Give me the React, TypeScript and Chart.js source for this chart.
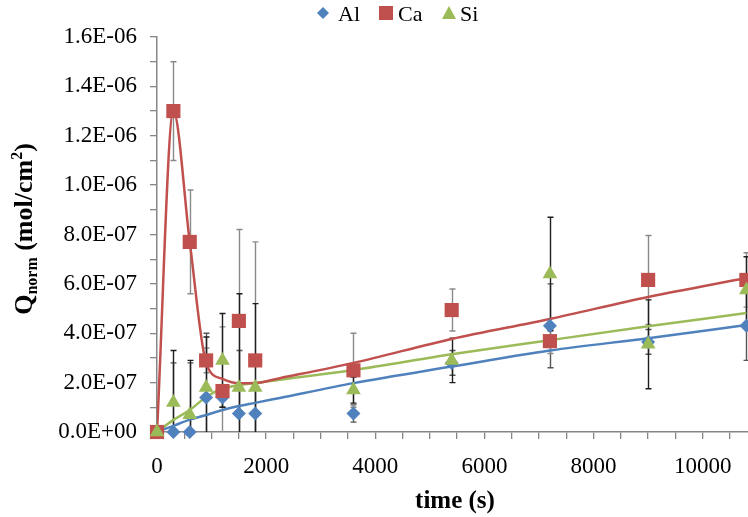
import React, { useEffect, useRef } from 'react';
import { Chart, registerables } from 'chart.js';

Chart.register(...registerables);

// ---- data (mol/cm2) ----
const times = [0, 300, 600, 900, 1200, 1500, 1800, 3600, 5400, 7200, 9000, 10800];
const alValues = [0, 0, 0, 1.4e-7, 1.4e-7, 0.75e-7, 0.75e-7, 0.75e-7, 2.8e-7, 4.3e-7, 3.65e-7, 4.3e-7];
const alErrors = [0, 2.8e-7, 2.8e-7, 2.6e-7, 0.4e-7, 2.55e-7, 1.0e-7, 0.35e-7, 0.5e-7, 1.7e-7, 0.5e-7, 1.4e-7];
const caValues = [0, 13.0e-7, 7.7e-7, 2.9e-7, 1.66e-7, 4.5e-7, 2.9e-7, 2.5e-7, 4.94e-7, 3.68e-7, 6.16e-7, 6.16e-7];
const caErrors = [0, 2.0e-7, 2.1e-7, 0.5e-7, 2.6e-7, 3.7e-7, 4.8e-7, 1.5e-7, 0.85e-7, 0.5e-7, 1.8e-7, 1.1e-7];
const siValues = [0, 1.2e-7, 0.7e-7, 1.8e-7, 2.9e-7, 1.8e-7, 1.8e-7, 1.7e-7, 2.9e-7, 6.4e-7, 3.55e-7, 5.75e-7];
const siErrors = [0, 2.1e-7, 2.2e-7, 2.05e-7, 1.9e-7, 3.8e-7, 3.4e-7, 0.53e-7, 0.9e-7, 2.3e-7, 1.8e-7, 1.35e-7];

// fitted model curves
const fitTimes = [0, 300, 600, 900, 1200, 1500, 1800, 2250, 3600, 5400, 7200, 9000, 10800];
const alFit = [0, 0.25e-7, 0.5e-7, 0.69e-7, 0.89e-7, 1.05e-7, 1.18e-7, 1.38e-7, 1.98e-7, 2.65e-7, 3.3e-7, 3.8e-7, 4.33e-7];
const caFit = [0, 13.0e-7, 7.7e-7, 2.8e-7, 2.15e-7, 1.97e-7, 1.98e-7, 2.18e-7, 2.8e-7, 3.77e-7, 4.58e-7, 5.47e-7, 6.24e-7];
const siFit = [0, 0.49e-7, 0.89e-7, 1.42e-7, 1.75e-7, 1.9e-7, 1.98e-7, 2.12e-7, 2.51e-7, 3.15e-7, 3.72e-7, 4.28e-7, 4.82e-7];

const xTickValues = [0, 500, 1000, 1500, 2000, 2500, 3000, 3500, 4000, 4500, 5000, 5500, 6000, 6500, 7000, 7500, 8000, 8500, 9000, 9500, 10000, 10500];
const xTickLabels = ['0', '2000', '4000', '6000', '8000', '10000'];
const yTickValues = [0, 1e-7, 2e-7, 3e-7, 4e-7, 5e-7, 6e-7, 7e-7, 8e-7, 9e-7, 10e-7, 11e-7, 12e-7, 13e-7, 14e-7, 15e-7, 16e-7];
const yTickLabels = ['0.0E+00', '2.0E-07', '4.0E-07', '6.0E-07', '8.0E-07', '1.0E-06', '1.2E-06', '1.4E-06', '1.6E-06'];

const AL = '#4F81BD';
const CA = '#C0504D';
const SI = '#9BBB59';
const FONT = '"Liberation Serif", "Times New Roman", serif';
const AXIS = '#868686';

const errorSeries = [
  { values: alValues, err: alErrors, color: '#555555' },
  { values: caValues, err: caErrors, color: '#8a8a8a' },
  { values: siValues, err: siErrors, color: '#1e1e1e' },
];

const overlayPlugin = {
  id: 'overlay',
  beforeDatasetsDraw(chart: any) {
    const { ctx, chartArea, scales } = chart;
    const xs = scales.x;
    const ys = scales.y;
    ctx.save();
    ctx.beginPath();
    ctx.rect(chartArea.left, chartArea.top - 10, chartArea.right - chartArea.left + 10, chartArea.bottom - chartArea.top + 10);
    ctx.clip();
    errorSeries.forEach((s) => {
      ctx.strokeStyle = s.color;
      ctx.lineWidth = 1.4;
      times.forEach((t, i) => {
        const e = s.err[i];
        if (!e) return;
        const x = Math.round(xs.getPixelForValue(t)) + 0.5;
        const yTop = ys.getPixelForValue(s.values[i] + e);
        const yBot = ys.getPixelForValue(s.values[i] - e);
        ctx.beginPath();
        ctx.moveTo(x, yTop);
        ctx.lineTo(x, yBot);
        ctx.moveTo(x - 3, yTop);
        ctx.lineTo(x + 3, yTop);
        ctx.moveTo(x - 3, yBot);
        ctx.lineTo(x + 3, yBot);
        ctx.stroke();
      });
    });
    ctx.restore();
  },
  afterDraw(chart: any) {
    const { ctx } = chart;
    ctx.save();
    ctx.fillStyle = '#000';
    // x-axis title
    ctx.font = `bold 25px ${FONT}`;
    ctx.textAlign = 'center';
    ctx.textBaseline = 'alphabetic';
    ctx.fillText('time (s)', 455, 508);

    // y-axis title with sub/superscript
    const big = `bold 26px ${FONT}`;
    const small = `bold 16px ${FONT}`;
    const parts = [
      { t: 'Q', f: big, dy: 0 },
      { t: 'norm', f: small, dy: 5 },
      { t: ' (mol/cm', f: big, dy: 0 },
      { t: '2', f: small, dy: -10 },
      { t: ')', f: big, dy: 0 },
    ];
    let total = 0;
    parts.forEach((p) => {
      ctx.font = p.f;
      total += ctx.measureText(p.t).width;
    });
    ctx.translate(32, 229);
    ctx.rotate(-Math.PI / 2);
    ctx.textAlign = 'left';
    let cx = -total / 2;
    parts.forEach((p) => {
      ctx.font = p.f;
      ctx.fillText(p.t, cx, p.dy);
      cx += ctx.measureText(p.t).width;
    });
    ctx.restore();

    // legend
    ctx.save();
    ctx.font = `22px ${FONT}`;
    ctx.textAlign = 'left';
    ctx.textBaseline = 'alphabetic';
    const ly = 13;
    const base = 21;
    ctx.fillStyle = AL;
    ctx.beginPath();
    ctx.moveTo(323, ly - 6);
    ctx.lineTo(329, ly);
    ctx.lineTo(323, ly + 6);
    ctx.lineTo(317, ly);
    ctx.closePath();
    ctx.fill();
    ctx.fillStyle = '#000';
    ctx.fillText('Al', 338, base);
    ctx.fillStyle = CA;
    ctx.fillRect(379, ly - 7, 14, 14);
    ctx.fillStyle = '#000';
    ctx.fillText('Ca', 398, base);
    ctx.fillStyle = SI;
    ctx.beginPath();
    ctx.moveTo(449, ly - 7);
    ctx.lineTo(456, ly + 6);
    ctx.lineTo(442, ly + 6);
    ctx.closePath();
    ctx.fill();
    ctx.fillStyle = '#000';
    ctx.fillText('Si', 460, base);
    ctx.restore();
  },
};

function pts(xs: number[], ys: number[]) {
  return xs.map((x, i) => ({ x, y: ys[i] }));
}

export default function App() {
  const canvasRef = useRef<HTMLCanvasElement | null>(null);

  useEffect(() => {
    const canvas = canvasRef.current;
    if (!canvas) return;
    const fitLine = (label: string, data: number[], color: string) => ({
      type: 'line' as const,
      label,
      data: pts(fitTimes, data),
      borderColor: color,
      backgroundColor: color,
      borderWidth: 2.5,
      pointRadius: 0,
      cubicInterpolationMode: 'monotone' as const,
      fill: false,
      order: 10,
    });
    const markers = (label: string, data: number[], color: string, style: string, r: number, order: number) => ({
      type: 'scatter' as const,
      label,
      data: pts(times, data),
      pointStyle: style,
      pointRadius: r,
      pointBackgroundColor: color,
      pointBorderColor: color,
      pointBorderWidth: 0,
      backgroundColor: color,
      borderColor: color,
      showLine: false,
      clip: false,
      order,
    });
    const chart = new Chart(canvas, {
      type: 'scatter',
      data: {
        datasets: [
          fitLine('Al fit', alFit, AL),
          fitLine('Ca fit', caFit, CA),
          fitLine('Si fit', siFit, SI),
          markers('Al', alValues, AL, 'rectRot', 7, 3),
          markers('Ca', caValues, CA, 'rect', 10, 2),
          markers('Si', siValues, SI, 'triangle', 8.5, 1),
        ] as any,
      },
      options: {
        animation: false,
        responsive: false,
        events: [],
        layout: { autoPadding: false, padding: { top: 37, left: 0, right: 0, bottom: 0 } },
        plugins: { legend: { display: false }, tooltip: { enabled: false } },
        scales: {
          x: {
            type: 'linear',
            min: 0,
            max: 10830,
            afterBuildTicks: (s: any) => {
              s.ticks = xTickValues.map((v) => ({ value: v }));
            },
            afterFit: (s: any) => {
              s.height = 85;
              s.paddingLeft = 0;
              s.paddingRight = 0;
            },
            ticks: {
              autoSkip: false,
              maxRotation: 0,
              padding: 14,
              color: '#000',
              font: { family: FONT, size: 23 },
              callback: (v: any, i: number) => (i % 4 === 0 ? xTickLabels[i / 4] : ''),
            },
            grid: { drawOnChartArea: false, tickLength: 7, color: AXIS, lineWidth: 1.3 },
            border: { color: AXIS, width: 1.5 },
          },
          y: {
            type: 'linear',
            min: 0,
            max: 1.6e-6,
            afterBuildTicks: (s: any) => {
              s.ticks = yTickValues.map((v) => ({ value: v }));
            },
            afterFit: (s: any) => {
              s.width = 157;
              s.paddingTop = 0;
              s.paddingBottom = 0;
            },
            ticks: {
              autoSkip: false,
              padding: 13,
              color: '#000',
              font: { family: FONT, size: 23 },
              callback: (v: any, i: number) => (i % 2 === 0 ? yTickLabels[i / 2] : ''),
            },
            grid: { drawOnChartArea: false, tickLength: 7, color: AXIS, lineWidth: 1.3 },
            border: { color: AXIS, width: 1.5 },
          },
        },
      } as any,
      plugins: [overlayPlugin],
    });
    return () => chart.destroy();
  }, []);

  return (
    <div style={{ position: 'fixed', left: 0, top: 0, width: 748, height: 517, background: '#fff' }}>
      <canvas ref={canvasRef} width={748} height={517} style={{ display: 'block' }} />
    </div>
  );
}
